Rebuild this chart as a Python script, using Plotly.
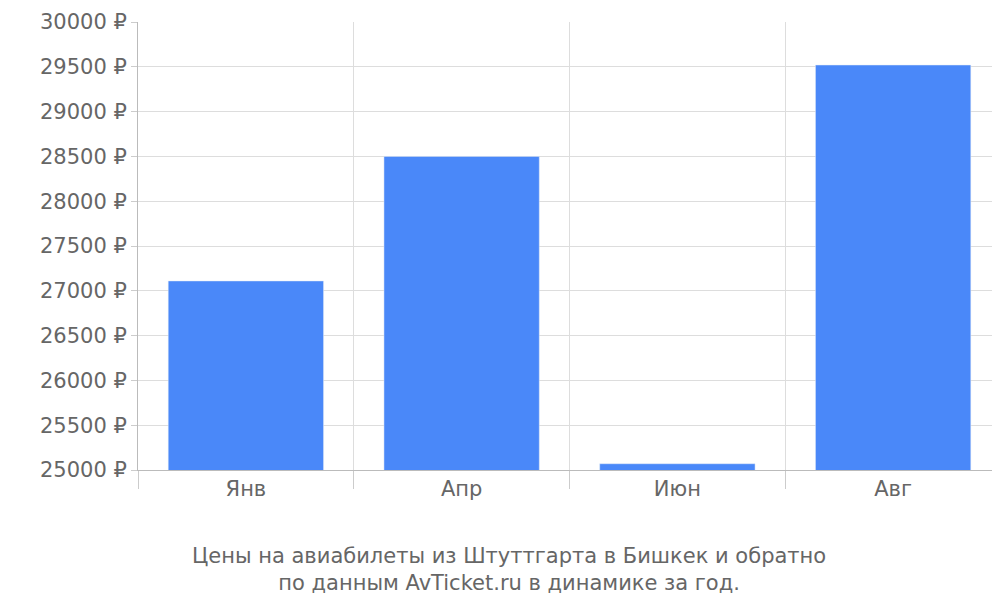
import plotly.graph_objects as go

months = ["Янв", "Апр", "Июн", "Авг"]
prices = [27110, 28500, 25070, 29520]

fig = go.Figure(go.Bar(x=months, y=prices, marker_color="#4a88f9", width=0.72))

fig.update_layout(
    width=1000, height=600,
    plot_bgcolor="white", paper_bgcolor="white",
    margin=dict(l=130, r=7, t=14, b=138),
    font=dict(family="DejaVu Sans", size=21, color="#666"),
    showlegend=False,
)
fig.update_xaxes(
    tickson="boundaries", ticks="outside", ticklen=18, tickcolor="#ccc",
    showgrid=True, gridcolor="#ddd", showline=True, linecolor="#bbb",
    automargin=False,
)
fig.update_yaxes(
    range=[25000, 30000], dtick=500, tickformat="d", ticksuffix=" ₽",
    ticks="outside", ticklen=6, tickcolor="#ccc", gridcolor="#ddd",
    showline=True, linecolor="#bbb", zeroline=False, automargin=False,
)
fig.add_annotation(
    text="Цены на авиабилеты из Штуттгарта в Бишкек и обратно<br>по данным AvTicket.ru в динамике за год.",
    xref="paper", yref="paper", x=0.43, y=-0.16, yanchor="top",
    showarrow=False, font=dict(size=21, color="#666"),
)
fig.write_html("out.html")
